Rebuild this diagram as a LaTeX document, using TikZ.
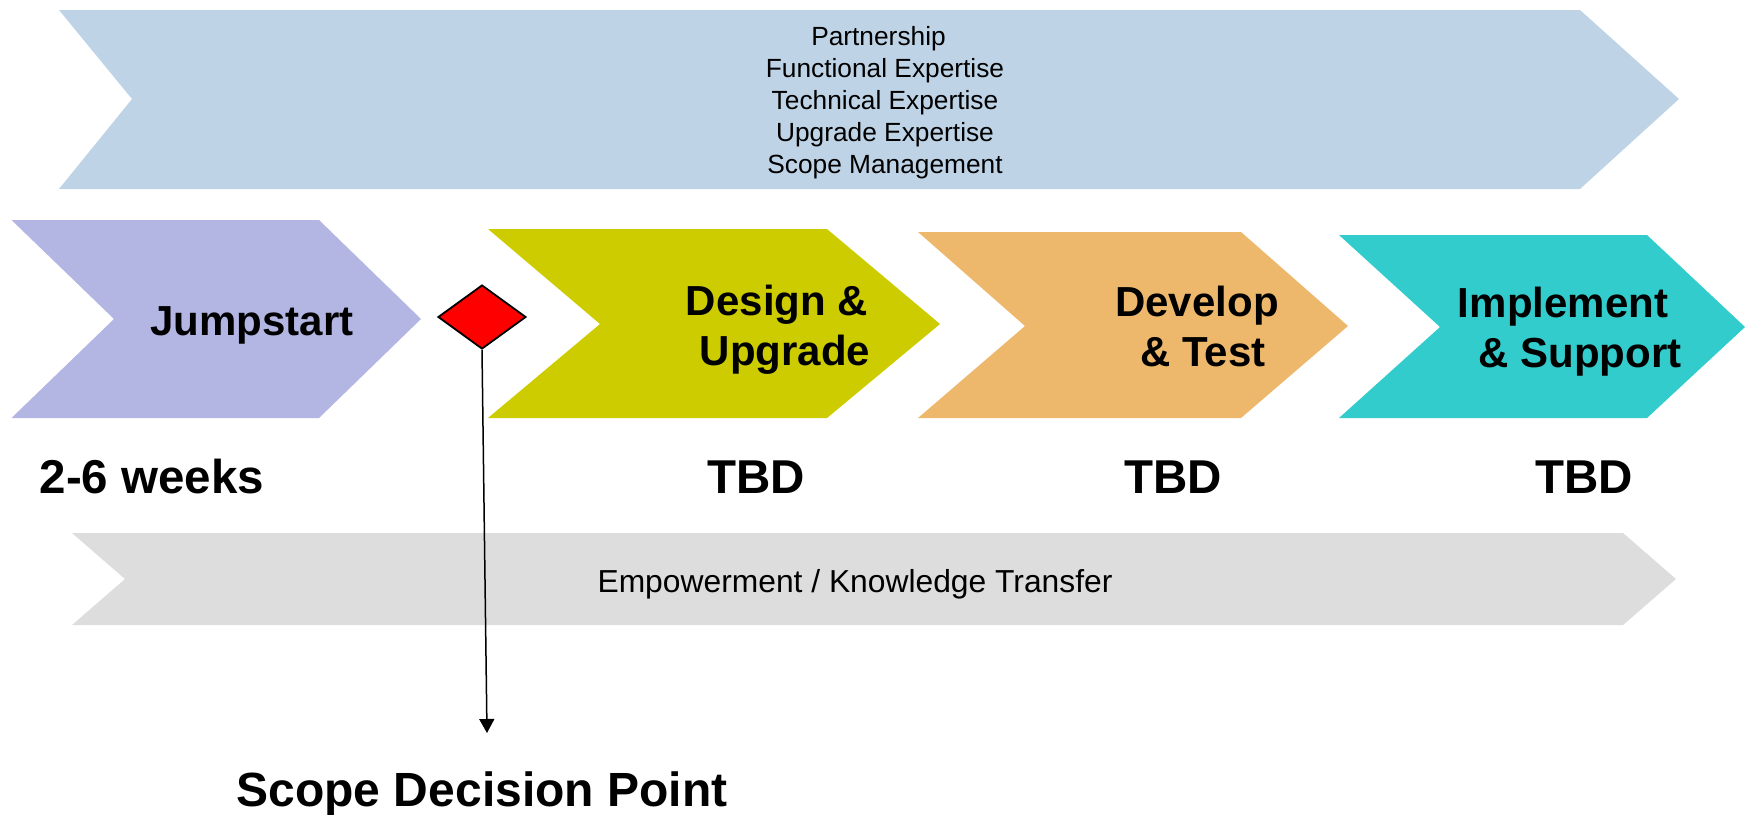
\documentclass[tikz,border=0pt]{standalone}
\usepackage{fontspec}
\setmainfont{Liberation Sans}
\usetikzlibrary{shapes.geometric,arrows.meta}
\definecolor{bandblue}{RGB}{190,211,230}
\definecolor{bandgray}{RGB}{221,221,221}
\definecolor{jumpcol}{RGB}{179,181,227}
\definecolor{designcol}{RGB}{204,204,0}
\definecolor{developcol}{RGB}{237,184,107}
\definecolor{implcol}{RGB}{51,204,204}
\begin{document}
\begin{tikzpicture}[x=1pt,y=-1pt,
  phase/.style={inner sep=0pt, anchor=base, font=\bfseries\fontsize{42}{50}\selectfont},
  dur/.style={inner sep=0pt, anchor=base, font=\bfseries\fontsize{47.5}{55}\selectfont},
  bandtext/.style={inner sep=0pt, anchor=base},
  milestone/.style={shape=diamond, draw=black, fill=red, line width=1.8pt, inner sep=0pt, minimum width=88pt, minimum height=64pt},
  pointer/.style={line width=1.5pt, -{Triangle[length=14pt,width=15pt]}}]
\useasboundingbox (0,0) rectangle (1745,814);

% background bands
\fill[bandblue] (59,10) -- (1580,10) -- (1679,99) -- (1580,189) -- (59,189) -- (132,99) -- cycle;
\fill[bandgray] (72,533) -- (1623,533) -- (1676,579) -- (1623,625) -- (72,625) -- (125,579) -- cycle;

% phase chevrons
\fill[jumpcol] (11.5,220) -- (319,220) -- (421,319) -- (319,418) -- (11.5,418) -- (114,319) -- cycle;
\fill[designcol] (488,229) -- (827,229) -- (940,324) -- (827,418) -- (488,418) -- (600,324) -- cycle;
\fill[developcol] (918,232) -- (1241,232) -- (1348,326) -- (1241,418) -- (918,418) -- (1025,326) -- cycle;
\fill[implcol] (1339,235) -- (1647,235) -- (1745,327) -- (1647,418) -- (1339,418) -- (1440,327) -- cycle;

% band texts
\node[bandtext, font=\fontsize{26.3}{32}\selectfont] (skills) at (885,45)
  {\begin{tabular}[t]{@{}c@{}}Partnership\hspace*{13pt}\\Functional Expertise\\Technical Expertise\\Upgrade Expertise\\Scope Management\end{tabular}};
\node[bandtext, font=\fontsize{31.8}{38}\selectfont] (empower) at (855,592) {Empowerment / Knowledge Transfer};

% phase labels
\node[phase] (jump) at (252,335) {Jumpstart};
\node[phase] (design) at (777,315) {\begin{tabular}[t]{@{}c@{}}Design \&\\\hspace*{16pt}Upgrade\end{tabular}};
\node[phase] (develop) at (1197,316) {\begin{tabular}[t]{@{}c@{}}Develop\\\hspace*{12pt}\& Test\end{tabular}};
\node[phase] (implement) at (1563,317) {\begin{tabular}[t]{@{}c@{}}Implement\\\hspace*{34pt}\& Support\end{tabular}};

% durations
\node[dur] (d1) at (152,493) {2-6 weeks};
\node[dur] (d2) at (756,493) {TBD};
\node[dur] (d3) at (1173,493) {TBD};
\node[dur] (d4) at (1584,493) {TBD};

% decision point
\node[milestone] (dia) at (482,317) {};
\coordinate (tip) at (487,733);
\draw[pointer] (dia.south) -- (tip);
\node[inner sep=0pt, anchor=base, font=\bfseries\fontsize{48}{55}\selectfont] (scope) at (482,806) {Scope Decision Point};
\end{tikzpicture}
\end{document}
